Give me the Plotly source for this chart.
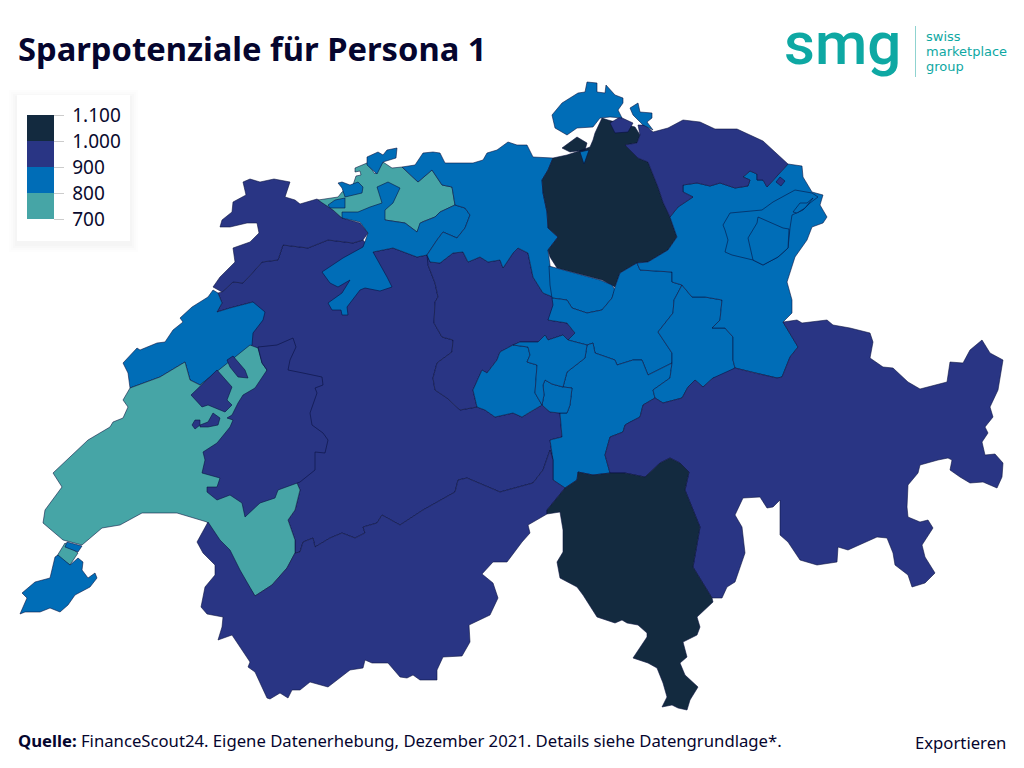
import plotly.graph_objects as go

# Savings per canton (CHF), estimated from the colour classes of the map
cantons = ["BE", "LU", "JU", "BL", "SO", "BS", "AG", "ZH", "ZG", "SZ", "UR", "GL", "OW", "NW", "SG", "AR", "AI", "TG", "SH",
           "NE", "VD", "FR", "GE", "VS", "GR", "TI"]
savings = [950, 940, 930, 760, 860, 850, 840, 1060, 830, 850, 860, 840, 850, 840, 850, 860, 840, 940, 860,
           850, 750, 930, 870, 920, 950, 1050]

legend_ticks = [700, 800, 900, 1000, 1100]
legend_labels = ["\u00a0700", "\u00a0800", "\u00a0900", "\u00a01.000", "\u00a01.100"]
class_colors = ["#46a5a6", "#006db7", "#293584", "#132a3f"]

outlines = {
    "BE": [[(218,293),(222,292),(233,282),(243,283),(255,270),(262,262),(278,260),(283,245),(308,248),(328,240),(353,243),(363,240),(373,252),(393,248),(417,257),(427,255),(430,262),(428,265),(435,283),(438,297),(435,302),(434,323),(442,337),(453,340),(452,352),(437,363),(433,378),(435,390),(447,398),(460,410),(477,407),(485,410),(495,417),(513,413),(522,417),(530,412),(542,405),(550,412),(560,413),(562,437),(550,440),(553,460),(550,450),(543,470),(533,483),(500,492),(467,478),(458,480),(455,492),(423,510),(400,525),(382,515),(377,523),(363,527),(365,533),(355,538),(342,533),(330,538),(315,547),(313,538),(303,542),(300,552),(295,553),(295,540),(288,520),(295,510),(300,490),(297,483),(280,470),(260,420),(250,345),(250,320),(253,302),(230,308),(217,312),(222,303)]],
    "LU": [[(427,255),(430,262),(440,263),(453,253),(463,252),(468,262),(480,257),(488,262),(500,260),(503,268),(513,253),(518,248),(528,253),(533,277),(543,293),(553,297),(553,298),(557,305),(548,320),(567,323),(575,333),(568,340),(563,335),(557,337),(548,340),(545,335),(538,342),(520,342),(513,345),(500,352),(497,360),(487,373),(482,370),(473,390),(477,407),(460,410),(447,398),(435,390),(433,378),(437,363),(452,352),(453,340),(442,337),(434,323),(435,302),(438,297),(435,283),(428,265)]],
    "JU": [[(213,287),(220,277),(235,262),(233,248),(250,242),(259,233),(257,223),(247,223),(230,227),(220,227),(222,220),(232,212),(233,202),(246,195),(243,182),(250,179),(260,182),(274,179),(290,182),(285,197),(295,200),(300,204),(317,199),(333,210),(342,218),(360,223),(368,233),(363,240),(353,243),(328,240),(308,248),(283,245),(278,260),(262,262),(255,270),(243,283),(233,282),(222,292)]],
    "BL": [[(318,200),(333,210),(342,218),(370,215),(385,220),(405,223),(417,232),(422,222),(435,217),(440,212),(455,205),(452,187),(442,185),(432,170),(418,182),(402,167),(392,168),(383,162),(375,174),(367,163),(355,168),(355,172),(360,171),(361,175),(356,176),(353,185),(342,192),(338,197)]],
    "SO": [[(322,272),(343,258),(363,247),(368,233),(360,222),(342,218),(342,212),(358,212),(370,207),(382,203),(377,187),(388,182),(400,188),(393,203),(385,210),(385,220),(405,223),(417,232),(420,223),(435,217),(440,212),(455,205),(465,208),(470,215),(465,228),(457,238),(443,232),(437,240),(427,255),(417,257),(393,248),(373,252),(387,277),(392,287),(380,291),(365,288),(360,290),(355,297),(347,307),(348,315),(342,315),(341,310),(332,310),(328,303),(342,293),(350,280),(338,287),(330,283)],
           [(338,183),(342,182),(350,185),(358,182),(363,187),(362,193),(345,197),(342,188)],
           [(328,205),(335,200),(345,198),(345,208),(340,208),(330,208)]],
    "BS": [[(367,157),(378,152),(383,155),(387,150),(397,148),(396,158),(383,162),(377,174),(367,165)]],
    "AG": [[(402,167),(415,165),(423,153),(433,152),(440,153),(445,163),(453,163),(473,163),(483,160),(487,153),(497,150),(508,142),(517,145),(527,145),(533,157),(548,158),(553,158),(548,170),(542,180),(543,193),(547,212),(548,228),(558,237),(548,250),(550,265),(553,297),(543,293),(533,277),(528,253),(518,248),(513,253),(503,268),(500,260),(488,262),(480,257),(468,262),(463,252),(453,253),(440,263),(430,262),(427,255),(437,240),(443,232),(457,238),(465,228),(470,215),(465,208),(455,205),(452,187),(442,185),(432,170),(418,182)]],
    "ZH": [[(602,118),(608,120),(635,127),(640,135),(637,143),(625,145),(630,150),(638,158),(648,162),(658,187),(663,202),(670,217),(677,237),(668,250),(648,262),(637,263),(620,273),(615,287),(602,280),(577,273),(557,268),(550,257),(548,250),(558,237),(548,228),(547,212),(543,193),(542,180),(548,170),(553,158),(567,155),(582,150),(590,147),(593,140),(595,133)],
           [(562,148),(577,137),(587,143),(585,150),(570,152)]],
    "ZG": [[(549,266),(570,272),(600,280),(612,285),(615,290),(612,298),(602,310),(587,313),(572,308),(567,300),(552,298),(550,285)]],
    "SZ": [[(568,340),(587,345),(593,343),(595,353),(615,360),(617,365),(633,360),(642,360),(648,375),(672,363),(672,353),(658,332),(673,313),(674,300),(682,285),(672,282),(672,272),(640,270),(637,263),(620,273),(615,287),(612,298),(602,310),(587,313),(572,308),(567,300),(552,298),(553,305),(548,320),(567,323),(575,333)]],
    "UR": [[(560,413),(567,413),(570,405),(572,388),(563,387),(567,372),(585,358),(587,345),(593,343),(595,353),(615,360),(617,365),(633,360),(642,360),(648,375),(672,363),(670,378),(653,390),(655,398),(643,405),(640,417),(630,422),(625,425),(623,432),(610,437),(605,455),(610,473),(593,475),(578,472),(577,480),(565,488),(553,480),(553,460),(550,440),(562,437)]],
    "GL": [[(682,285),(692,297),(705,297),(722,300),(720,320),(712,328),(725,328),(733,337),(733,360),(735,368),(723,377),(713,378),(703,387),(695,380),(688,387),(682,398),(663,403),(655,398),(653,390),(670,378),(672,363),(672,353),(658,332),(673,313),(674,300)]],
    "OW": [[(473,390),(482,370),(487,373),(497,360),(500,352),(513,345),(528,347),(530,355),(527,362),(537,365),(535,393),(542,405),(530,412),(522,417),(513,413),(495,417),(485,410),(477,407)],
           [(543,385),(545,380),(552,384),(563,387),(572,388),(570,405),(567,413),(560,413),(550,412),(542,405),(544,395)]],
    "NW": [[(513,345),(520,342),(538,342),(545,335),(548,340),(557,337),(563,335),(568,340),(587,345),(585,358),(567,372),(563,387),(552,384),(545,380),(543,385),(544,395),(542,405),(535,393),(537,365),(527,362),(530,355),(528,347)]],
    "SG": [[(788,164),(802,166),(803,177),(812,192),(823,195),(820,205),(827,217),(823,223),(812,227),(807,240),(795,257),(787,282),(792,300),(792,313),(783,322),(798,347),(790,357),(782,377),(777,378),(755,373),(735,368),(733,360),(733,337),(725,328),(712,328),(720,320),(722,300),(705,297),(692,297),(682,285),(672,282),(672,272),(640,270),(637,263),(648,262),(668,250),(677,237),(670,217),(678,207),(693,197),(683,192),(683,185),(697,183),(710,186),(720,183),(735,188),(748,186),(750,180),(743,177),(750,171),(757,174),(757,180),(763,180),(767,187)]],
    "AR": [[(723,225),(730,213),(762,210),(773,202),(795,190),(812,193),(818,197),(810,203),(803,210),(792,215),(790,228),(788,248),(778,257),(763,265),(753,260),(732,255),(725,252),(728,240),(725,230)]],
    "AI": [[(758,217),(765,220),(783,228),(789,229),(788,248),(778,257),(763,265),(753,260),(748,238),(757,223)],
           [(793,212),(800,203),(807,203),(813,198),(805,208),(797,213)]],
    "TG": [[(640,135),(638,125),(645,125),(653,132),(668,128),(683,120),(700,122),(715,129),(737,129),(763,141),(788,164),(767,187),(763,180),(757,180),(757,174),(750,171),(743,177),(750,180),(748,186),(735,188),(720,183),(710,186),(697,183),(683,185),(683,192),(693,197),(678,207),(670,217),(663,202),(658,187),(648,162),(638,158),(630,150),(625,145),(637,143)],
           [(610,123),(620,117),(633,123),(628,132),(615,133)],
           [(780,177),(785,181),(781,186),(776,182)]],
    "SH": [[(552,115),(562,103),(578,93),(585,92),(587,82),(597,83),(597,92),(605,93),(606,85),(615,95),(623,98),(623,103),(618,110),(622,118),(610,117),(600,118),(593,127),(577,128),(567,135),(555,128)],
           [(630,108),(638,103),(640,112),(652,113),(652,118),(647,122),(653,130),(643,125),(633,115)],
           [(580,152),(589,150),(584,164)]],
    "NE": [[(123,363),(137,348),(140,350),(157,343),(165,342),(173,330),(183,322),(180,318),(192,307),(208,297),(213,290),(218,293),(222,303),(217,312),(230,308),(253,302),(265,312),(263,320),(253,333),(252,345),(200,385),(190,380),(185,362),(160,377),(130,388),(128,373)]],
    "VD": [[(130,388),(123,400),(128,407),(123,418),(113,422),(110,427),(88,440),(53,473),(62,487),(45,510),(43,523),(63,540),(82,545),(102,528),(120,525),(142,513),(177,513),(207,522),(255,596),(272,585),(287,568),(295,553),(295,540),(288,520),(295,510),(300,490),(297,483),(280,470),(262,420),(267,370),(262,363),(258,348),(250,345),(200,385),(190,380),(185,362),(160,377)],
           [(65,543),(57,556),(70,565),(78,553)]],
    "FR": [[(258,347),(277,345),(293,338),(296,347),(290,360),(288,370),(303,373),(322,377),(323,385),(315,388),(317,393),(310,413),(312,425),(323,433),(328,440),(325,453),(315,452),(315,470),(300,482),(278,490),(275,498),(260,503),(245,517),(242,503),(230,495),(217,500),(207,492),(207,487),(217,487),(220,478),(202,473),(205,460),(203,452),(217,443),(230,427),(233,420),(227,418),(232,415),(238,403),(243,395),(255,388),(267,370),(262,363)],
           [(191,395),(217,370),(232,387),(227,400),(232,405),(225,412),(208,405),(202,407)],
           [(213,413),(220,418),(218,425),(208,427),(200,427),(200,420),(195,420),(192,425),(195,429),(200,425),(208,422)],
           [(227,360),(233,356),(245,370),(248,378),(238,377),(230,367)]],
    "GE": [[(55,557),(58,555),(70,565),(78,558),(83,562),(82,570),(88,578),(95,573),(97,578),(90,587),(75,595),(68,605),(60,612),(50,608),(40,612),(25,612),(20,614),(27,598),(22,593),(35,582),(50,578),(53,565)],
           [(67,542),(82,546),(78,552),(65,547)]],
    "VS": [[(208,522),(197,542),(203,553),(215,565),(215,575),(205,587),(201,607),(207,614),(223,617),(222,627),(218,640),(232,635),(250,662),(248,667),(255,672),(267,698),(270,699),(280,693),(288,698),(292,690),(300,690),(310,682),(328,687),(350,670),(363,668),(365,660),(372,663),(388,663),(400,677),(407,678),(413,675),(420,680),(437,680),(437,670),(443,657),(462,656),(470,642),(469,625),(490,615),(498,598),(493,583),(482,574),(493,562),(507,562),(522,542),(530,533),(528,525),(547,514),(547,510),(565,488),(553,480),(553,460),(550,450),(543,470),(533,483),(500,492),(467,478),(458,480),(455,492),(423,510),(400,525),(382,515),(377,523),(363,527),(365,533),(355,538),(342,533),(330,538),(315,547),(313,538),(303,542),(300,552),(295,553),(287,568),(272,585),(255,596),(240,570),(230,550),(220,540)]],
    "GR": [[(783,322),(797,320),(802,323),(810,322),(827,320),(833,325),(850,328),(870,333),(873,342),(870,358),(883,367),(893,368),(908,382),(920,389),(937,385),(947,382),(950,362),(963,363),(970,350),(982,340),(990,353),(1003,360),(998,390),(990,407),(993,417),(985,427),(988,433),(982,442),(985,455),(995,454),(1003,463),(1002,477),(997,488),(983,482),(970,483),(960,477),(950,470),(952,460),(948,458),(938,460),(920,465),(918,473),(908,485),(907,507),(908,517),(920,522),(928,520),(933,528),(922,545),(925,557),(935,573),(925,583),(912,587),(908,575),(895,565),(893,553),(887,538),(877,537),(848,550),(838,547),(837,562),(817,565),(800,560),(788,542),(780,535),(780,500),(773,507),(767,508),(760,497),(743,498),(735,515),(742,527),(745,553),(735,582),(727,587),(722,598),(712,598),(693,567),(700,527),(685,490),(689,472),(680,463),(670,458),(660,463),(645,477),(625,473),(610,473),(605,455),(610,437),(623,432),(625,425),(630,422),(640,417),(643,405),(655,398),(663,403),(682,398),(688,387),(695,380),(703,387),(713,378),(735,368),(755,373),(777,378),(782,377),(790,357),(798,347)]],
    "TI": [[(547,510),(565,488),(577,480),(578,472),(593,475),(610,473),(625,473),(645,477),(660,463),(670,458),(680,463),(689,472),(685,490),(700,527),(693,567),(712,598),(713,602),(697,617),(700,627),(697,635),(683,642),(687,657),(680,663),(685,675),(698,687),(690,700),(687,710),(678,708),(672,705),(662,707),(667,697),(663,683),(657,668),(648,663),(633,658),(647,637),(647,633),(638,625),(627,623),(622,620),(615,623),(597,617),(583,595),(577,587),(560,578),(557,562),(563,552),(563,530),(560,512),(547,514)]],
}


def class_color(value):
    for low, color in zip(legend_ticks, class_colors):
        if value < low + 100:
            return color
    return class_colors[-1]


fig = go.Figure()

for canton, value in zip(cantons, savings):
    xs, ys = [], []
    for ring in outlines[canton]:
        xs += [p[0] for p in ring] + [ring[0][0], None]
        ys += [p[1] for p in ring] + [ring[0][1], None]
    fig.add_trace(go.Scatter(x=xs, y=ys, mode="lines", fill="toself", fillcolor=class_color(value), name=canton,
                             line=dict(color="rgba(8,14,60,0.8)", width=0.7), showlegend=False,
                             hovertemplate=canton + ": %{text}<extra></extra>", text=[value] * len(xs)))

# Stepped colour scale for the legend, the one point sits outside the visible range
steps = []
for i, color in enumerate(class_colors):
    steps += [[i / 4, color], [(i + 1) / 4, color]]

# The page keeps an 8px body margin, so the figure is 16px smaller than the window
fig_w, fig_h = 1008, 752

fig.add_trace(go.Scatter(
    x=[-100], y=[-100], mode="markers", showlegend=False, hoverinfo="skip",
    marker=dict(color=[900], cmin=700, cmax=1100, colorscale=steps, showscale=True,
                colorbar=dict(x=(27 - 8) / fig_w, xanchor="left", xpad=0, y=(760 - 219) / fig_h, yanchor="bottom", ypad=0,
                              lenmode="pixels", len=104, thicknessmode="pixels", thickness=27,
                              outlinewidth=0, borderwidth=0, tickmode="array", tickvals=legend_ticks,
                              ticktext=legend_labels, ticks="outside", ticklen=10,
                              tickcolor="#cccccc", tickwidth=1,
                              tickfont=dict(family="Noto Sans", size=19, color="#0a0a2e")))))

# Soft shadow and white box behind the legend
shapes = []
for grow, alpha in [(8, 0.006), (6, 0.008), (4, 0.01), (2, 0.012)]:
    shapes.append(dict(type="rect", x0=17 - grow, x1=130 + grow, y0=95 - grow + 3, y1=241 + grow + 3, layer="below",
                       line_width=0, fillcolor=f"rgba(0,0,0,{alpha})"))
shapes.append(dict(type="rect", x0=17, x1=130, y0=95, y1=241, layer="below", line_width=0, fillcolor="white"))
shapes.append(dict(type="line", x0=915.5, x1=915.5, y0=26, y1=77, line=dict(color="#8fd3d0", width=1)))

ink = "#05052e"
teal = "#0ea8a3"
annotations = [
    dict(x=17, y=48, text="<b>Sparpotenziale für Persona 1</b>", xanchor="left", yanchor="middle",
         font=dict(family="Noto Sans", size=32.7, color=ink)),
    dict(x=17, y=740, text="<b>Quelle:</b> FinanceScout24. Eigene Datenerhebung, Dezember 2021. Details siehe Datengrundlage*.",
         xanchor="left", yanchor="middle", font=dict(family="Noto Sans", size=16.7, color=ink)),
    dict(x=1007, y=742, text="Exportieren", xanchor="right", yanchor="middle",
         font=dict(family="Noto Sans", size=16.7, color=ink)),
    dict(x=783, y=43, text="smg", xanchor="left", yanchor="middle",
         font=dict(family="Roboto", weight=500, size=60, color=teal)),
    dict(x=925, y=36, text="swiss", xanchor="left", yanchor="middle", font=dict(family="DejaVu Sans", size=13, color=teal)),
    dict(x=925, y=51, text="marketplace", xanchor="left", yanchor="middle", font=dict(family="DejaVu Sans", size=13, color=teal)),
    dict(x=925, y=66, text="group", xanchor="left", yanchor="middle", font=dict(family="DejaVu Sans", size=13, color=teal)),
]
for a in annotations:
    a.update(xref="x", yref="y", showarrow=False, borderpad=0)

fig.update_layout(
    width=fig_w, height=fig_h, margin=dict(l=0, r=0, t=0, b=0),
    paper_bgcolor="white", plot_bgcolor="white", showlegend=False,
    xaxis=dict(range=[8, 1016], visible=False, fixedrange=True),
    yaxis=dict(range=[760, 8], visible=False, fixedrange=True),
    shapes=shapes, annotations=annotations,
)

fig.write_html("out.html")
